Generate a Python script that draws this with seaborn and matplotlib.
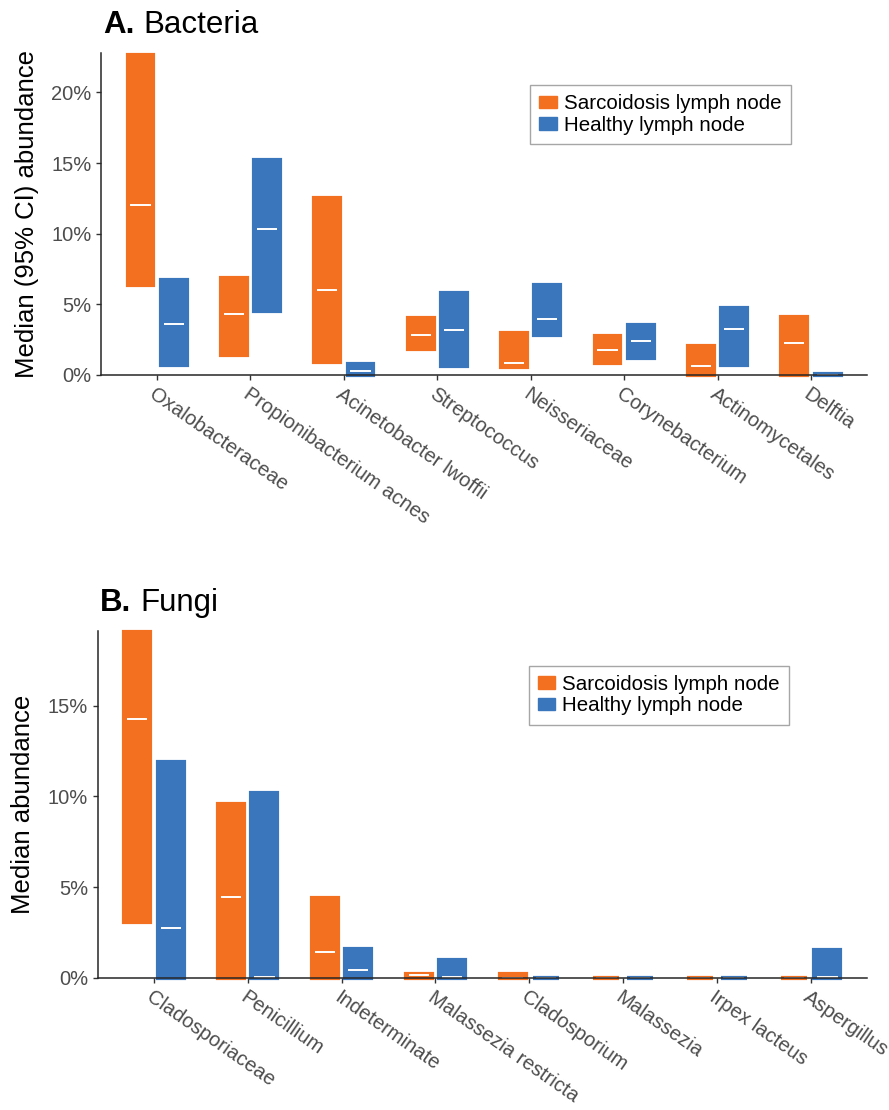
import seaborn as sns
import matplotlib.pyplot as plt
import matplotlib.ticker as mticker
import matplotlib.patches as mpatches
from matplotlib.transforms import ScaledTranslation
import numpy as np
import pandas as pd

groups = ["Sarcoidosis lymph node", "Healthy lymph node"]
colors = {"Sarcoidosis lymph node": "#F37021", "Healthy lymph node": "#3A76BC"}

# panel A - bacteria (percent)
bacteria = ["Oxalobacteraceae", "Propionibacterium acnes", "Acinetobacter lwoffii",
            "Streptococcus", "Neisseriaceae", "Corynebacterium", "Actinomycetales", "Delftia"]
sarc_med_b = [12.0, 4.35, 6.0, 2.8, 0.87, 1.77, 0.66, 2.24]
sarc_lo_b = [6.35, 1.42, 0.95, 1.87, 0.53, 0.85, 0.0, 0.0]
sarc_hi_b = [22.65, 6.85, 12.5, 4.02, 3.0, 2.75, 2.06, 4.11]
heal_med_b = [3.6, 10.3, 0.28, 3.18, 3.93, 2.42, 3.27, 0.0]
heal_lo_b = [0.7, 4.5, 0.0, 0.6, 2.81, 1.19, 0.74, 0.0]
heal_hi_b = [6.75, 15.25, 0.77, 5.8, 6.4, 3.52, 4.72, 0.04]

# panel B - fungi (percent)
fungi = ["Cladosporiaceae", "Penicillium", "Indeterminate", "Malassezia restricta",
         "Cladosporium", "Malassezia", "Irpex lacteus", "Aspergillus"]
sarc_med_f = [14.3, 4.45, 1.4, 0.15, 0.0, 0.0, 0.0, 0.0]
sarc_lo_f = [3.1, 0, 0, 0, 0, 0, 0, 0]
sarc_hi_f = [19.1, 9.61, 4.37, 0.18, 0.2, 0.0, 0.0, 0.0]
heal_med_f = [2.74, 0.05, 0.41, 0.05, 0.0, 0.0, 0.0, 0.03]
heal_lo_f = [0, 0, 0, 0, 0, 0, 0, 0]
heal_hi_f = [11.91, 10.17, 1.61, 0.96, 0.0, 0.0, 0.0, 1.52]

sns.set_theme(style="ticks")
plt.rcParams["font.family"] = ["Liberation Sans", "DejaVu Sans"]
plt.rcParams["axes.linewidth"] = 1.1
plt.rcParams["text.color"] = "black"
tick_grey = "#4D4D4D"


def panel(ax, taxa, med, lo, hi, ymax, ylabel):
    df = pd.DataFrame({
        "taxon": taxa * 2,
        "group": [groups[0]] * len(taxa) + [groups[1]] * len(taxa),
        "lo": lo[0] + lo[1],
        "hi": hi[0] + hi[1],
        "med": med[0] + med[1],
    })
    df["span"] = df["hi"] - df["lo"]
    sns.barplot(data=df, x="taxon", y="span", hue="group", order=taxa, hue_order=groups,
                palette=colors, saturation=1, width=0.71, gap=0.22, errorbar=None,
                legend=False, ax=ax)
    # float each bar from its lower CI and mark the median
    for cont, g in zip(ax.containers, groups):
        sub = df[df["group"] == g].set_index("taxon").loc[taxa]
        for bar, l, m in zip(cont, sub["lo"], sub["med"]):
            bar.set_y(l)
            bar.set_edgecolor(bar.get_facecolor())
            bar.set_linewidth(3.0)
            bar.set_clip_on(False)
            x0, w = bar.get_x(), bar.get_width()
            ax.hlines(m, x0 + 0.11 * w, x0 + 0.89 * w, color="white", lw=1.4, zorder=2)

    ax.set_xlim(-0.6, 7.6)
    ax.set_ylim(0, ymax)
    ax.yaxis.set_major_locator(mticker.MultipleLocator(5))
    ax.yaxis.set_major_formatter(mticker.PercentFormatter(decimals=0))
    ax.set_xlabel("")
    ax.set_ylabel(ylabel, fontsize=18.5, color="black", labelpad=9)
    ax.set_xticks(range(len(taxa)))
    ax.set_xticklabels(taxa, rotation=-35, ha="left", va="top", rotation_mode="anchor")
    off = ScaledTranslation(-4 / 100, 0, ax.figure.dpi_scale_trans)
    for lbl in ax.get_xticklabels():
        lbl.set_transform(lbl.get_transform() + off)
    ax.tick_params(axis="both", labelsize=14.5, labelcolor=tick_grey, color="#333333",
                   length=3.5, width=1.0)
    sns.despine(ax=ax)
    handles = [mpatches.Patch(color=colors[g], label=g) for g in groups]
    leg = ax.legend(handles=handles, loc="upper left", bbox_to_anchor=(0.56, 0.90),
                    fontsize=14.8, frameon=True, fancybox=False, borderaxespad=0,
                    handlelength=0.85, handleheight=0.55, handletextpad=0.35,
                    labelspacing=0.12, borderpad=0.45)
    leg.get_frame().set_edgecolor("#909090")
    leg.get_frame().set_linewidth(1.0)


fig = plt.figure(figsize=(8.89, 11.10), dpi=100)
ax1 = fig.add_axes([0.1136, 0.6622, 0.8617, 0.2901])
ax2 = fig.add_axes([0.1099, 0.1192, 0.8654, 0.3123])

panel(ax1, bacteria, (sarc_med_b, heal_med_b), (sarc_lo_b, heal_lo_b), (sarc_hi_b, heal_hi_b),
      22.8, "Median (95% CI) abundance")
panel(ax2, fungi, (sarc_med_f, heal_med_f), (sarc_lo_f, heal_lo_f), (sarc_hi_f, heal_hi_f),
      19.13, "Median abundance")

fig.text(103 / 889, 1 - 33 / 1110, "A.", fontsize=22.5, fontweight="bold", va="baseline")
fig.text(143 / 889, 1 - 33 / 1110, "Bacteria", fontsize=22.5, va="baseline")
fig.text(100 / 889, 1 - 611 / 1110, "B.", fontsize=22.5, fontweight="bold", va="baseline")
fig.text(140 / 889, 1 - 611 / 1110, "Fungi", fontsize=22.5, va="baseline")

fig.savefig("out.png", dpi=100)
